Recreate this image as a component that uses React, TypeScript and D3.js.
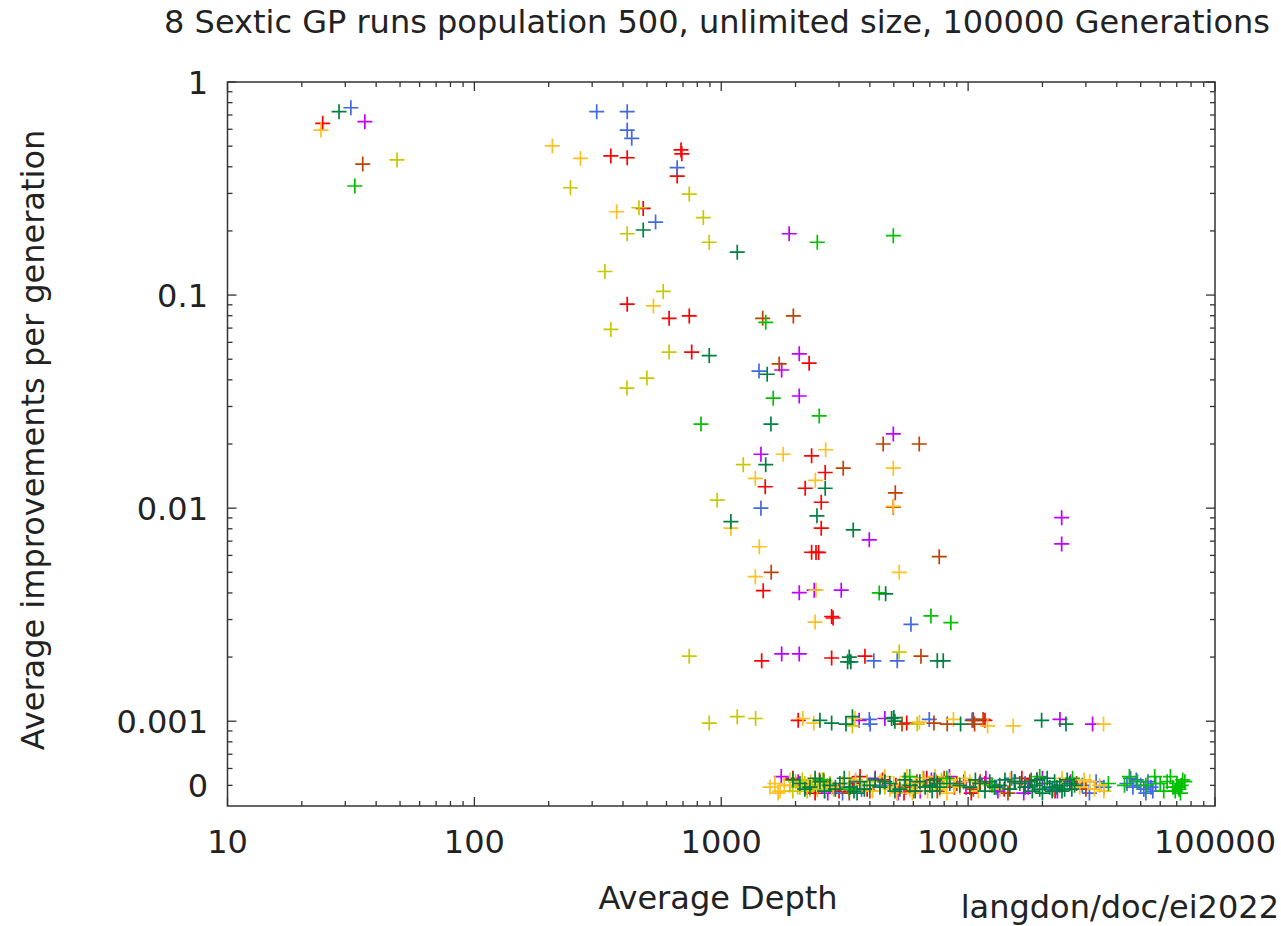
import React from "react";
import * as d3 from "d3";

// ---------- data: [average depth, improvements per generation] ----------
// Points on the "0" row are drawn at about 0.0005 (spread as in the picture).
const TITLE = "8 Sextic GP runs population 500, unlimited size, 100000 Generations";
const X_LABEL = "Average Depth";
const Y_LABEL = "Average improvements per generation";
const FOOTER = "langdon/doc/ei2022";

const X_TICKS = [10, 100, 1000, 10000, 100000];
const X_TICK_LABELS = ["10", "100", "1000", "10000", "100000"];
const Y_TICKS = [1, 0.1, 0.01, 0.001, 0.0005];
const Y_TICK_LABELS = ["1", "0.1", "0.01", "0.001", "0"];

const red: [number, number][] = [
  [24.3, 0.64], [357, 0.45], [416, 0.441], [687, 0.48], [692, 0.46], [663, 0.362], [483, 0.255],
  [416, 0.0906], [615, 0.0778], [742, 0.0798], [759, 0.054], [2270, 0.0479], [2323, 0.0176],
  [1507, 0.0126], [2637, 0.0147], [2188, 0.0124], [2541, 0.01066], [2541, 0.00805], [2323, 0.00621],
  [2420, 0.0062], [2480, 0.0062], [1479, 0.0041], [2837, 0.00305], [2800, 0.0031], [1458, 0.00192],
  [2800, 0.00198], [3820, 0.00202], [2050, 0.00101], [5640, 0.00098], [11700, 0.00101],
  [1950, 0.00054], [2200, 0.00049], [2400, 0.00046], [2600, 0.00052], [3000, 0.00047], [3400, 0.00051],
  [3650, 0.00055], [3900, 0.00048], [4500, 0.00053], [5100, 0.0005], [5500, 0.00046], [6000, 0.00047],
  [6800, 0.00054], [7400, 0.00052], [8800, 0.00049], [10300, 0.00046], [11700, 0.00051], [14000, 0.00048],
  [16500, 0.00054], [19000, 0.00053], [22500, 0.00047],
];

const blue: [number, number][] = [
  [31.6, 0.757], [313, 0.726], [416, 0.726], [416, 0.595], [434, 0.544], [663, 0.396], [542, 0.22],
  [1422, 0.044], [1448, 0.01], [5866, 0.00285], [5163, 0.00192], [4151, 0.00192], [3980, 0.00102],
  [4010, 0.00097], [6960, 0.00102], [10380, 0.00101], [10460, 0.00102],
  [2900, 0.00049], [3100, 0.00046], [3500, 0.00052], [3700, 0.00048], [4400, 0.0005], [6600, 0.00054],
  [9600, 0.00052], [13000, 0.00049], [15000, 0.00054], [17000, 0.00051], [22000, 0.00048], [29000, 0.0005],
  [31000, 0.00046], [33000, 0.00052], [35500, 0.00049], [44000, 0.00051], [45500, 0.00054], [46500, 0.00049],
  [48000, 0.00053], [50000, 0.0005], [51500, 0.00048], [52500, 0.00046], [53500, 0.00052], [55000, 0.00049],
  [56000, 0.00047], [57500, 0.00051],
];

const magenta: [number, number][] = [
  [36, 0.651], [1884, 0.194], [2070, 0.053], [1757, 0.0445], [2070, 0.0336], [4977, 0.0223], [1448, 0.0179],
  [3978, 0.0071], [2070, 0.00401], [2380, 0.00412], [3062, 0.00412], [23930, 0.00902], [23930, 0.00679],
  [1757, 0.00207], [2070, 0.00207], [3620, 0.00101], [4600, 0.00103], [23550, 0.00102], [31920, 0.00097],
  [1750, 0.00055], [2050, 0.00052], [2700, 0.00046], [3300, 0.00049], [4200, 0.00054], [5200, 0.00046],
  [6400, 0.00047], [7100, 0.00053], [8400, 0.00055], [9800, 0.00049], [11800, 0.00054], [13200, 0.00047],
  [15500, 0.00052], [16800, 0.00046], [17500, 0.00049], [20000, 0.00054], [23000, 0.00047], [26000, 0.00052],
];

const brown: [number, number][] = [
  [35.3, 0.412], [1472, 0.0778], [1959, 0.0798], [1717, 0.0475], [4529, 0.02], [6340, 0.02], [3120, 0.0154],
  [5070, 0.0118], [4977, 0.0101], [7638, 0.00592], [1594, 0.005], [6442, 0.00202], [5400, 0.00097],
  [7270, 0.00098], [8230, 0.00097], [10620, 0.00097], [11500, 0.00102], [10500, 0.00101],
  [2500, 0.00053], [3300, 0.00046], [4000, 0.00047], [5600, 0.00049], [6200, 0.00052], [7500, 0.00047],
  [8000, 0.00054], [9000, 0.00051], [10500, 0.00048], [11200, 0.00052], [12800, 0.00049], [14500, 0.00046],
  [18000, 0.00053], [27500, 0.00051], [30000, 0.00048],
];

const olive: [number, number][] = [
  [48.6, 0.431], [245, 0.319], [338, 0.129], [357, 0.069], [464, 0.257], [742, 0.298], [846, 0.231],
  [416, 0.194], [894, 0.177], [582, 0.104], [615, 0.054], [500, 0.0408], [415, 0.0366], [1228, 0.016],
  [963, 0.0109], [742, 0.00202], [5260, 0.00211], [894, 0.00098], [1161, 0.00105], [1378, 0.00103],
  [3400, 0.00095], [6220, 0.00097],
  [1897, 0.0005], [1950, 0.00047], [2000, 0.00052], [2040, 0.00049], [2083, 0.00049], [2130, 0.00053],
  [2180, 0.00051], [2230, 0.00047], [2286, 0.00048], [2340, 0.0005], [2400, 0.00052], [2450, 0.00048],
  [2510, 0.0005], [2570, 0.00053], [2630, 0.00047], [2690, 0.0005], [2755, 0.00051], [2850, 0.00048],
  [3900, 0.00052], [4600, 0.00049], [7800, 0.00053],
];

const orange: [number, number][] = [
  [23.9, 0.595], [207, 0.501], [269, 0.438], [377, 0.246], [531, 0.0889], [1782, 0.0179], [2648, 0.0188],
  [4977, 0.0154], [1374, 0.0138], [2404, 0.0135], [4977, 0.0102], [1094, 0.00805], [1426, 0.00659],
  [5260, 0.005], [1374, 0.00477], [2420, 0.00412], [2399, 0.00292], [2140, 0.00103], [2370, 0.00098],
  [3480, 0.00103], [6350, 0.00099], [8720, 0.00102], [12000, 0.00095], [15230, 0.00095], [35370, 0.00097],
  [1575, 0.00049], [1650, 0.00051], [1700, 0.00046], [1729, 0.00047], [1800, 0.0005], [1897, 0.00053],
  [2300, 0.00052], [2800, 0.00049], [3100, 0.00051], [3300, 0.00054], [3500, 0.00053], [3700, 0.0005],
  [4100, 0.00047], [4400, 0.00052], [4600, 0.00055], [4819, 0.00048], [5000, 0.00051], [5150, 0.00046],
  [5290, 0.0005], [5500, 0.00053], [5650, 0.00055], [5807, 0.00048], [5950, 0.00046], [6100, 0.00051],
  [6374, 0.00049], [6550, 0.00054], [6700, 0.00052], [6850, 0.00047], [7000, 0.0005], [7350, 0.00055],
  [7680, 0.00048], [8000, 0.00051], [8200, 0.00046], [8430, 0.00053], [8800, 0.0005], [9254, 0.00049],
  [9700, 0.00054], [10160, 0.00052], [11000, 0.00047], [12240, 0.0005], [13430, 0.00048], [14800, 0.00053],
  [16190, 0.00051], [24000, 0.00054], [28320, 0.00049], [29500, 0.00053], [31090, 0.00052], [32500, 0.00048],
  [34120, 0.0005], [35500, 0.00047],
];

const lime: [number, number][] = [
  [32.8, 0.325], [2449, 0.177], [4977, 0.19], [1514, 0.0745], [1624, 0.0328], [2494, 0.0271], [828, 0.0248],
  [4365, 0.004], [7070, 0.00312], [8511, 0.0029],
  [2600, 0.00053], [3300, 0.00048], [5800, 0.00055], [8200, 0.00054], [12500, 0.0005], [19500, 0.00055],
  [26500, 0.00054], [37000, 0.00051], [43000, 0.0005], [45000, 0.00055], [48500, 0.00052], [52500, 0.0005],
  [57000, 0.00055], [60000, 0.00051], [62000, 0.00047], [64000, 0.00052], [66000, 0.00055], [67500, 0.00049],
  [69000, 0.00047], [70000, 0.00051], [71000, 0.00049], [71500, 0.00048], [72500, 0.00046], [73000, 0.0005],
  [74000, 0.00053], [75500, 0.00052],
];

const darkGreen: [number, number][] = [
  [28.3, 0.726], [483, 0.202], [1161, 0.159], [894, 0.052], [1535, 0.0425], [1589, 0.0248], [1514, 0.016],
  [2637, 0.0124], [1094, 0.00865], [2442, 0.0092], [3425, 0.0079], [4634, 0.00396], [7500, 0.00192],
  [7929, 0.00192], [3250, 0.0019], [3300, 0.002], [3350, 0.0019], [2510, 0.00101], [2800, 0.00098],
  [3200, 0.00097], [3400, 0.00105], [4900, 0.00103], [5000, 0.00104], [5050, 0.001], [9320, 0.00097],
  [19850, 0.00101], [24900, 0.00097],
  [1950, 0.00053], [2083, 0.00051], [2180, 0.00048], [2286, 0.00049], [2400, 0.00054], [2510, 0.00052],
  [2620, 0.00047], [2755, 0.0005], [2900, 0.00048], [3024, 0.00051], [3150, 0.00054], [3319, 0.00049],
  [3450, 0.00047], [3550, 0.00046], [3644, 0.00052], [3800, 0.00048], [4000, 0.0005], [4200, 0.00053],
  [4391, 0.00049], [4600, 0.00052], [4819, 0.00051], [5050, 0.00047], [5290, 0.00048], [5550, 0.00053],
  [5807, 0.0005], [6100, 0.00047], [6374, 0.00052], [6700, 0.00049], [6997, 0.0005], [7150, 0.00047],
  [7300, 0.00053], [7500, 0.00051], [7680, 0.00049], [8430, 0.00051], [9254, 0.0005], [10160, 0.00049],
  [10700, 0.00053], [11150, 0.00051], [11700, 0.00047], [12240, 0.00052], [12800, 0.00049], [13430, 0.0005],
  [14100, 0.00053], [14750, 0.00048], [15400, 0.00052], [16190, 0.00051], [17000, 0.00049], [17770, 0.00052],
  [18200, 0.00047], [18600, 0.0005], [19000, 0.00053], [19500, 0.00048], [20000, 0.00046], [20400, 0.00051],
  [20900, 0.00054], [21410, 0.00049], [21900, 0.00047], [22400, 0.00052], [22900, 0.00049], [23500, 0.0005],
  [24000, 0.00047], [24600, 0.00048], [25200, 0.00053], [25800, 0.00051], [26300, 0.00048], [27000, 0.0005],
];

const SERIES: { name: string; color: string; data: [number, number][] }[] = [
  { name: "red", color: "#ff0000", data: red },
  { name: "blue", color: "#4169e1", data: blue },
  { name: "magenta", color: "#c000ff", data: magenta },
  { name: "brown", color: "#c04000", data: brown },
  { name: "olive", color: "#c8c800", data: olive },
  { name: "orange", color: "#ffc020", data: orange },
  { name: "lime", color: "#00c000", data: lime },
  { name: "darkGreen", color: "#008040", data: darkGreen },
];

const W = 1281;
const H = 926;
const FONT = "DejaVu Sans, sans-serif";

export default function App() {
  const x = d3.scaleLog().domain([10, 100000]).range([227.5, 1215]);
  const y = d3.scaleLog().domain([0.0004, 1]).range([806, 82]);
  const [x0, x1] = x.range();
  const [y0, y1] = y.range();

  const xMinor: number[] = [];
  for (let k = 1; k < 5; k++) for (let m = 2; m <= 9; m++) xMinor.push(m * Math.pow(10, k));
  const yMinor: number[] = [];
  for (let k = -4; k < 0; k++) for (let m = 2; m <= 9; m++) {
    const v = m * Math.pow(10, k);
    if (v > 0.0004 && v < 1) yMinor.push(v);
  }

  const axisColor = "#333";
  const textColor = "#222";
  const MAJ = 9, MIN = 5;

  return (
    <svg width={W} height={H} style={{ position: "absolute", left: 0, top: 0, background: "#fff" }}>
      <rect x={0} y={0} width={W} height={H} fill="#fff" />
      {/* ticks */}
      <g stroke={axisColor} strokeWidth={1.3}>
        {X_TICKS.map((t) => (
          <g key={"xM" + t}>
            <line x1={x(t)} x2={x(t)} y1={y0} y2={y0 - MAJ} />
            <line x1={x(t)} x2={x(t)} y1={y1} y2={y1 + MAJ} />
          </g>
        ))}
        {xMinor.map((t) => (
          <g key={"xm" + t}>
            <line x1={x(t)} x2={x(t)} y1={y0} y2={y0 - MIN} />
            <line x1={x(t)} x2={x(t)} y1={y1} y2={y1 + MIN} />
          </g>
        ))}
        {Y_TICKS.slice(0, 4).map((t) => (
          <g key={"yM" + t}>
            <line x1={x0} x2={x0 + MAJ} y1={y(t)} y2={y(t)} />
            <line x1={x1} x2={x1 - MAJ} y1={y(t)} y2={y(t)} />
          </g>
        ))}
        {yMinor.map((t) => (
          <g key={"ym" + t}>
            <line x1={x0} x2={x0 + MIN} y1={y(t)} y2={y(t)} />
            <line x1={x1} x2={x1 - MIN} y1={y(t)} y2={y(t)} />
          </g>
        ))}
      </g>
      {/* points */}
      {SERIES.map((s) => (
        <g key={s.name} stroke={s.color} strokeWidth={1.7} fill="none">
          {s.data.map((d, i) => (
            <path key={i} d={`M${x(d[0]) - 7.5},${y(d[1])}h15M${x(d[0])},${y(d[1]) - 7.5}v15`} />
          ))}
        </g>
      ))}
      {/* border */}
      <rect x={x0} y={y1} width={x1 - x0} height={y0 - y1} fill="none" stroke={axisColor} strokeWidth={1.5} />
      {/* tick labels */}
      <g fontFamily={FONT} fontSize={32} fill={textColor}>
        {X_TICKS.map((t, i) => (
          <text key={"xl" + t} x={x(t)} y={853} textAnchor="middle">{X_TICK_LABELS[i]}</text>
        ))}
        {Y_TICKS.map((t, i) => (
          <text key={"yl" + t} x={208} y={y(t) + 11.5} textAnchor="end">{Y_TICK_LABELS[i]}</text>
        ))}
        <text x={717} y={33} textAnchor="middle">{TITLE}</text>
        <text x={718} y={909} textAnchor="middle">{X_LABEL}</text>
        <text x={1279} y={918} textAnchor="end">{FOOTER}</text>
        <text transform="translate(44,440) rotate(-90)" textAnchor="middle">{Y_LABEL}</text>
      </g>
    </svg>
  );
}
